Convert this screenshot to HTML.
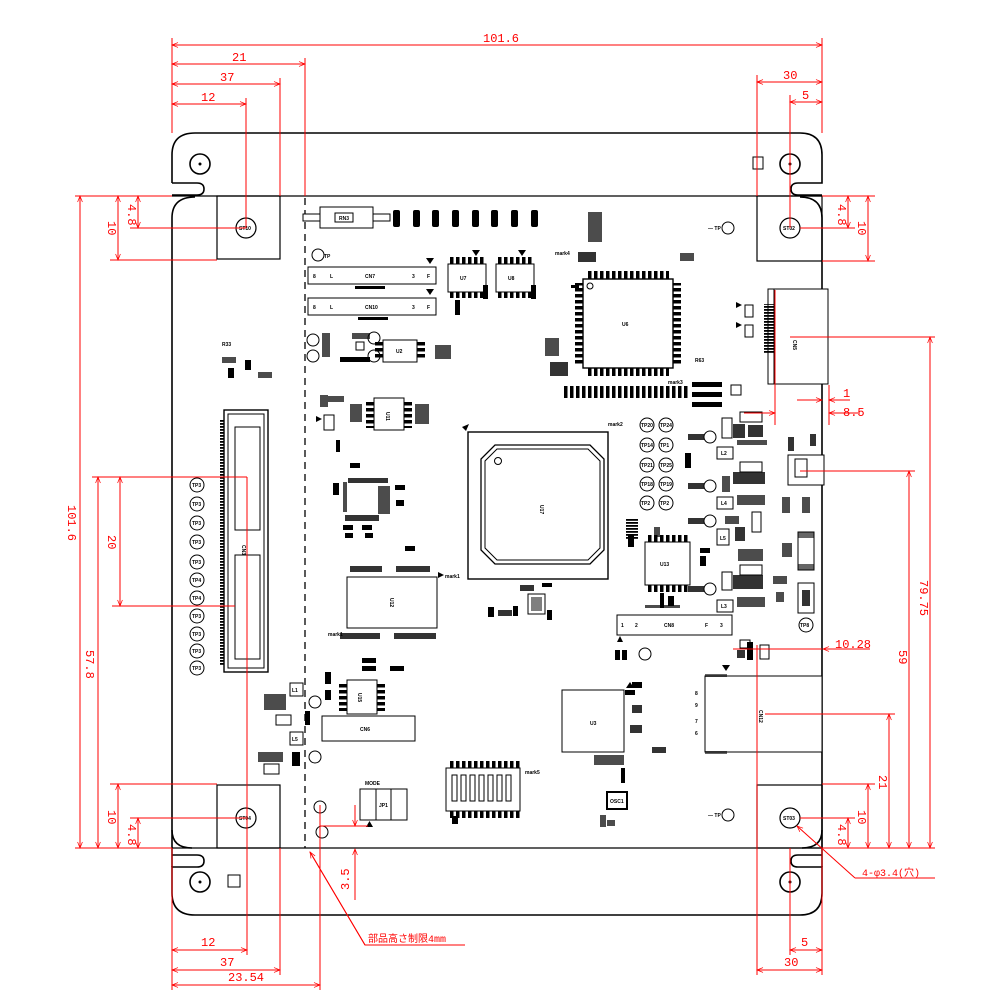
<!DOCTYPE html>
<html><head><meta charset="utf-8"><style>
html,body{margin:0;padding:0;background:#fff}
svg{display:block}
.r{stroke:#f00;stroke-width:1;fill:none}
.rt{fill:#f00;font-family:"Liberation Mono","Noto Sans CJK JP",monospace;font-size:12px;font-weight:normal}
.k{stroke:#000;stroke-width:1.6;fill:none}
.kt{stroke:#000;stroke-width:1;fill:#fff}
.t{font-family:"Liberation Sans",sans-serif;font-size:5px;font-weight:bold;fill:#000}
.b{fill:#000}
</style></head><body>
<svg width="1000" height="1000" viewBox="0 0 1000 1000" xmlns="http://www.w3.org/2000/svg">
<defs>
<marker id="a" viewBox="0 0 10 10" refX="10" refY="5" markerWidth="8" markerHeight="6" orient="auto-start-reverse"><path d="M0,1 L10,5 L0,9" stroke="#f00" fill="none" stroke-width="1.2"/></marker>
<pattern id="pv" width="10" height="6" patternUnits="userSpaceOnUse"><rect x="0" y="0" width="10" height="3.5" fill="#000"/></pattern>
<pattern id="ph" width="6" height="10" patternUnits="userSpaceOnUse"><rect x="0" y="0" width="3.5" height="10" fill="#000"/></pattern>
<pattern id="pl" width="5" height="3" patternUnits="userSpaceOnUse"><rect x="0" y="0" width="5" height="1.8" fill="#000"/></pattern>
</defs>

<path class="k" d="M172,155 Q172,133 195,133 H800 Q822,133 822,155 V183 H798 Q791,183 791,189 Q791,195 798,195 H822"/>
<path class="k" d="M172,183 H197 Q204,183 204,189 Q204,195 197,195 H172"/>
<line class="k" x1="172" y1="155" x2="172" y2="183"/>
<line class="k" x1="172" y1="196" x2="822" y2="196" style="stroke-width:1.3"/>
<path class="k" d="M172,848 V218 Q172,197 195,197"/>
<path class="k" d="M822,848 V218 Q822,197 800,197"/>
<line class="k" x1="172" y1="848" x2="822" y2="848" style="stroke-width:1.3"/>
<path class="k" d="M172,830 Q172,848 192,848"/>
<path class="k" d="M822,830 Q822,848 802,848"/>
<path class="k" d="M172,855 H197 Q204,855 204,861 Q204,867 197,867 H172 V893 Q172,915 195,915 H800 Q822,915 822,893 V867 H798 Q791,867 791,861 Q791,855 798,855 H822"/>
<line class="k" x1="172" y1="848" x2="172" y2="867"/>
<line class="k" x1="822" y1="848" x2="822" y2="867"/>
<circle class="k" cx="200" cy="164" r="10"/><circle cx="200" cy="164" r="1.5" class="b"/>
<circle class="k" cx="790" cy="164" r="10"/><circle cx="790" cy="164" r="1.5" class="b"/>
<circle class="k" cx="200" cy="882" r="10"/><circle cx="200" cy="882" r="1.5" class="b"/>
<circle class="k" cx="790" cy="882" r="10"/><circle cx="790" cy="882" r="1.5" class="b"/>
<rect class="kt" x="753" y="157" width="10" height="12"/>
<rect class="kt" x="228" y="875" width="12" height="12"/>

<rect class="k" x="217" y="196" width="63" height="63" style="stroke-width:1.2"/>
<circle class="k" cx="246" cy="228" r="10" style="stroke-width:1.2"/><text class="t" x="239" y="230">ST10</text>
<rect class="k" x="757" y="196" width="65" height="65" style="stroke-width:1.2"/>
<circle class="k" cx="790" cy="228" r="10" style="stroke-width:1.2"/><text class="t" x="783" y="230">ST02</text>
<rect class="k" x="217" y="785" width="63" height="63" style="stroke-width:1.2"/>
<circle class="k" cx="246" cy="818" r="10" style="stroke-width:1.2"/><text class="t" x="239" y="820">ST04</text>
<rect class="k" x="757" y="785" width="65" height="63" style="stroke-width:1.2"/>
<circle class="k" cx="790" cy="818" r="10" style="stroke-width:1.2"/><text class="t" x="783" y="820">ST03</text>

<line x1="305" y1="198" x2="305" y2="848" stroke="#000" stroke-width="1.3" stroke-dasharray="7,5"/>

<rect class="kt" x="303" y="214" width="17" height="7"/>
<rect class="kt" x="320" y="207" width="53" height="21"/>
<rect class="kt" x="373" y="214" width="17" height="7"/>
<rect class="kt" x="335" y="213" width="18" height="9"/><text class="t" x="339" y="220">RN3</text>
<g class="b">
<rect x="393" y="210" width="7" height="17" rx="2"/><rect x="413" y="210" width="7" height="17" rx="2"/><rect x="432" y="210" width="7" height="17" rx="2"/><rect x="452" y="210" width="7" height="17" rx="2"/><rect x="472" y="210" width="7" height="17" rx="2"/><rect x="491" y="210" width="7" height="17" rx="2"/><rect x="511" y="210" width="7" height="17" rx="2"/><rect x="531" y="210" width="7" height="17" rx="2"/>
</g>
<circle class="k" cx="318" cy="255" r="6" style="stroke-width:1"/><text class="t" x="324" y="258">TP</text>

<rect class="kt" x="308" y="267" width="128" height="17"/><text class="t" x="365" y="278">CN7</text>
<text class="t" x="313" y="278">8</text><text class="t" x="330" y="278">L</text><text class="t" x="412" y="278">3</text><text class="t" x="427" y="278">F</text>
<path d="M426,258 h8 l-4,6z" class="b"/>
<rect class="kt" x="308" y="298" width="128" height="17"/><text class="t" x="365" y="309">CN10</text>
<text class="t" x="313" y="309">8</text><text class="t" x="330" y="309">L</text><text class="t" x="412" y="309">3</text><text class="t" x="427" y="309">F</text>
<path d="M426,289 h8 l-4,6z" class="b"/>
<rect x="355" y="286" width="30" height="3" class="b"/><rect x="358" y="317" width="30" height="3" class="b"/>

<rect class="kt" x="448" y="264" width="38" height="28"/><text class="t" x="460" y="280">U7</text>
<rect x="450" y="257" width="34" height="7" fill="url(#ph)"/><rect x="450" y="292" width="34" height="6" fill="url(#ph)"/>
<rect class="kt" x="496" y="264" width="38" height="28"/><text class="t" x="508" y="280">U8</text>
<rect x="498" y="257" width="34" height="7" fill="url(#ph)"/><rect x="498" y="292" width="34" height="6" fill="url(#ph)"/>
<path d="M472,250 h8 l-4,6z M518,250 h8 l-4,6z" class="b"/>
<rect x="483" y="285" width="5" height="14" class="b"/><rect x="531" y="285" width="5" height="14" class="b"/>
<rect x="455" y="300" width="5" height="15" class="b"/>
<text class="t" x="555" y="255">mark4</text>

<rect class="kt" x="583" y="279" width="90" height="89" style="stroke-width:1.4"/>
<circle class="k" cx="590" cy="286" r="3" style="stroke-width:1"/><text class="t" x="622" y="326">U6</text>
<rect x="587" y="271" width="82" height="8" fill="url(#ph)"/><rect x="587" y="368" width="82" height="8" fill="url(#ph)"/>
<rect x="575" y="283" width="8" height="82" fill="url(#pv)"/><rect x="673" y="283" width="8" height="82" fill="url(#pv)"/>
<rect x="571" y="285" width="8" height="3" class="b"/>
<rect x="578" y="252" width="18" height="10" class="b" opacity=".8"/><rect x="588" y="212" width="14" height="30" class="b" opacity=".7"/>
<rect x="680" y="253" width="14" height="8" class="b" opacity=".7"/>
<rect x="545" y="338" width="14" height="18" class="b" opacity=".7"/>
<rect x="550" y="362" width="18" height="14" class="b" opacity=".8"/>
<rect x="562" y="386" width="128" height="12" fill="url(#ph)"/>
<text class="t" x="668" y="384">mark3</text><text class="t" x="695" y="362">R63</text>
<rect x="692" y="382" width="30" height="5" class="b"/><rect x="692" y="392" width="30" height="5" class="b"/><rect x="692" y="402" width="30" height="5" class="b"/>
<rect class="kt" x="731" y="385" width="10" height="10"/>

<rect class="kt" x="768" y="289" width="60" height="95"/>
<line class="k" x1="774" y1="289" x2="774" y2="384" style="stroke-width:1"/>
<rect x="764" y="304" width="10" height="50" fill="url(#pl)"/>
<text class="t" x="793" y="340" transform="rotate(90 793 340)">CN5</text>
<rect class="kt" x="745" y="305" width="8" height="12"/><rect class="kt" x="745" y="325" width="8" height="12"/>
<path d="M736,302 l6,3 -6,3z M736,322 l6,3 -6,3z" class="b"/>

<rect x="222" y="357" width="14" height="6" class="b" opacity=".7"/><rect x="228" y="368" width="6" height="10" class="b"/>
<rect x="245" y="360" width="6" height="10" class="b"/><rect x="258" y="372" width="14" height="6" class="b" opacity=".7"/>
<text class="t" x="222" y="346">R33</text>

<circle class="k" cx="313" cy="340" r="6" style="stroke-width:1"/><circle class="k" cx="313" cy="356" r="6" style="stroke-width:1"/>
<circle class="k" cx="374" cy="338" r="6" style="stroke-width:1"/><circle class="k" cx="374" cy="356" r="6" style="stroke-width:1"/>
<rect x="322" y="333" width="8" height="24" class="b" opacity=".7"/><rect x="352" y="333" width="18" height="6" class="b" opacity=".7"/>
<rect x="340" y="357" width="30" height="5" class="b"/>
<rect class="kt" x="356" y="342" width="8" height="8"/>
<rect class="kt" x="383" y="340" width="34" height="22"/><text class="t" x="396" y="353">U2</text>
<rect x="375" y="342" width="8" height="18" fill="url(#pv)"/><rect x="417" y="342" width="8" height="18" fill="url(#pv)"/>
<rect x="435" y="345" width="16" height="14" class="b" opacity=".7"/>

<rect class="kt" x="374" y="398" width="30" height="32"/><text class="t" x="386" y="412" transform="rotate(90 386 412)">U11</text>
<rect x="366" y="400" width="8" height="28" fill="url(#pv)"/><rect x="404" y="400" width="8" height="28" fill="url(#pv)"/>
<rect x="320" y="395" width="8" height="12" class="b" opacity=".7"/><rect x="328" y="396" width="16" height="6" class="b" opacity=".7"/>
<rect class="kt" x="324" y="415" width="10" height="15"/><path d="M316,416 l6,3 -6,3z" class="b"/>
<rect x="350" y="404" width="12" height="18" class="b" opacity=".7"/><rect x="415" y="404" width="14" height="20" class="b" opacity=".7"/>
<rect x="336" y="440" width="4" height="12" class="b"/>
<rect x="350" y="463" width="10" height="5" class="b"/>
<rect x="348" y="478" width="40" height="5" class="b" opacity=".8"/><rect x="333" y="483" width="6" height="12" class="b"/>
<rect x="343" y="482" width="4" height="30" class="b" opacity=".7"/>
<rect x="378" y="486" width="12" height="28" class="b" opacity=".7"/>
<rect x="395" y="485" width="10" height="5" class="b"/><rect x="396" y="500" width="8" height="6" class="b"/>
<rect x="345" y="515" width="34" height="6" class="b" opacity=".8"/>
<rect x="343" y="525" width="10" height="5" class="b"/><rect x="362" y="525" width="10" height="5" class="b"/>
<rect x="345" y="533" width="8" height="5" class="b"/><rect x="365" y="533" width="8" height="5" class="b"/>
<rect x="405" y="546" width="10" height="5" class="b"/>

<rect class="k" x="224" y="410" width="44" height="262" style="stroke-width:1.4"/>
<rect class="k" x="228" y="414" width="36" height="254" style="stroke-width:1"/>
<rect x="220" y="420" width="4" height="245" fill="url(#pl)"/>
<rect class="kt" x="235" y="427" width="25" height="103"/>
<rect class="kt" x="235" y="555" width="25" height="104"/>
<text class="t" x="242" y="545" transform="rotate(90 242 545)">CN3</text>
<g>
<circle class="k" cx="197" cy="485" r="7" style="stroke-width:1"/><circle class="k" cx="197" cy="504" r="7" style="stroke-width:1"/><circle class="k" cx="197" cy="523" r="7" style="stroke-width:1"/><circle class="k" cx="197" cy="542" r="7" style="stroke-width:1"/><circle class="k" cx="197" cy="562" r="7" style="stroke-width:1"/><circle class="k" cx="197" cy="580" r="7" style="stroke-width:1"/><circle class="k" cx="197" cy="598" r="7" style="stroke-width:1"/><circle class="k" cx="197" cy="616" r="7" style="stroke-width:1"/><circle class="k" cx="197" cy="634" r="7" style="stroke-width:1"/><circle class="k" cx="197" cy="651" r="7" style="stroke-width:1"/><circle class="k" cx="197" cy="668" r="7" style="stroke-width:1"/>
</g>
<g class="t"><text x="192" y="487">TP3</text><text x="192" y="506">TP3</text><text x="192" y="525">TP3</text><text x="192" y="544">TP3</text><text x="192" y="564">TP3</text><text x="192" y="582">TP4</text><text x="192" y="600">TP4</text><text x="192" y="618">TP3</text><text x="192" y="636">TP3</text><text x="192" y="653">TP3</text><text x="192" y="670">TP3</text></g>

<rect class="kt" x="468" y="432" width="140" height="147" style="stroke-width:1.4"/>
<path class="k" d="M495,445 H590 L604,459 V550 L590,564 H495 L481,550 V459 Z" style="stroke-width:1.3"/>
<path class="k" d="M497,449 H588 L600,461 V548 L588,560 H497 L485,548 V461 Z" style="stroke-width:1"/>
<circle class="k" cx="498" cy="461" r="3.5" style="stroke-width:1"/>
<text class="t" x="540" y="505" transform="rotate(90 540 505)">U17</text>
<path d="M462,427 l7,-3 -3,7z" class="b"/>
<text class="t" x="608" y="426">mark2</text>
<g>
<circle class="k" cx="647" cy="425" r="7" style="stroke-width:1"/><circle class="k" cx="666" cy="425" r="7" style="stroke-width:1"/>
<circle class="k" cx="647" cy="445" r="7" style="stroke-width:1"/><circle class="k" cx="666" cy="445" r="7" style="stroke-width:1"/>
<circle class="k" cx="647" cy="465" r="7" style="stroke-width:1"/><circle class="k" cx="666" cy="465" r="7" style="stroke-width:1"/>
<circle class="k" cx="647" cy="484" r="7" style="stroke-width:1"/><circle class="k" cx="666" cy="484" r="7" style="stroke-width:1"/>
<circle class="k" cx="647" cy="503" r="7" style="stroke-width:1"/><circle class="k" cx="666" cy="503" r="7" style="stroke-width:1"/>
</g>
<g class="t"><text x="641" y="427">TP20</text><text x="660" y="427">TP24</text><text x="641" y="447">TP14</text><text x="660" y="447">TP1</text><text x="641" y="467">TP21</text><text x="660" y="467">TP25</text><text x="641" y="486">TP18</text><text x="660" y="486">TP19</text><text x="641" y="505">TP2</text><text x="660" y="505">TP2</text></g>
<rect x="626" y="518" width="12" height="22" fill="url(#pl)"/>
<rect x="685" y="453" width="6" height="15" class="b"/>

<rect class="kt" x="645" y="542" width="45" height="43"/><text class="t" x="660" y="566">U13</text>
<rect x="647" y="535" width="43" height="7" fill="url(#ph)"/><rect x="647" y="585" width="43" height="7" fill="url(#ph)"/>
<rect x="654" y="527" width="6" height="10" class="b" opacity=".7"/>
<rect x="660" y="593" width="4" height="15" class="b"/><rect x="668" y="596" width="6" height="10" class="b"/>
<rect x="645" y="605" width="35" height="3" class="b" opacity=".7"/>
<rect x="628" y="535" width="6" height="12" class="b"/>

<rect class="kt" x="617" y="615" width="115" height="20"/><text class="t" x="664" y="627">CN8</text>
<text class="t" x="621" y="627">1</text><text class="t" x="635" y="627">2</text><text class="t" x="705" y="627">F</text><text class="t" x="720" y="627">3</text>
<path d="M617,642 h6 l-3,-6z" class="b"/>

<rect class="kt" x="347" y="577" width="90" height="51"/><text class="t" x="390" y="598" transform="rotate(90 390 598)">U12</text>
<rect x="350" y="566" width="32" height="6" class="b" opacity=".8"/><rect x="396" y="566" width="34" height="6" class="b" opacity=".8"/>
<rect x="340" y="633" width="40" height="6" class="b" opacity=".8"/><rect x="394" y="633" width="42" height="6" class="b" opacity=".8"/>
<text class="t" x="328" y="636">mark1</text><text class="t" x="445" y="578">mark1</text>
<path d="M438,572 l6,3 -6,3z" class="b"/>

<rect class="kt" x="528" y="594" width="17" height="20"/><rect x="531" y="597" width="11" height="14" class="b" opacity=".5"/>
<rect x="520" y="585" width="14" height="6" class="b" opacity=".8"/><rect x="542" y="583" width="10" height="4" class="b"/>
<rect x="488" y="607" width="6" height="10" class="b"/><rect x="498" y="610" width="14" height="6" class="b" opacity=".8"/><rect x="513" y="606" width="5" height="10" class="b"/>
<rect x="547" y="610" width="5" height="10" class="b"/>

<g>
<rect class="kt" x="740" y="412" width="22" height="10"/><rect class="kt" x="722" y="418" width="10" height="20"/>
<rect x="733" y="424" width="12" height="14" class="b" opacity=".8"/><rect x="748" y="425" width="15" height="12" class="b" opacity=".8"/>
<circle class="k" cx="710" cy="437" r="6" style="stroke-width:1"/><rect x="688" y="434" width="16" height="6" class="b" opacity=".8"/>
<rect class="kt" x="717" y="447" width="16" height="12"/><text class="t" x="721" y="455">L2</text>
<rect x="737" y="440" width="30" height="5" class="b" opacity=".7"/>
<rect class="kt" x="740" y="462" width="22" height="10"/>
<rect x="733" y="472" width="32" height="12" class="b" opacity=".8"/>
<circle class="k" cx="710" cy="486" r="6" style="stroke-width:1"/><rect x="688" y="483" width="16" height="6" class="b" opacity=".8"/>
<rect x="722" y="476" width="8" height="16" class="b" opacity=".7"/>
<rect class="kt" x="717" y="497" width="16" height="12"/><text class="t" x="721" y="505">L4</text>
<rect x="737" y="495" width="28" height="10" class="b" opacity=".7"/>
<circle class="k" cx="710" cy="521" r="6" style="stroke-width:1"/><rect x="688" y="518" width="16" height="6" class="b" opacity=".8"/><rect x="725" y="516" width="14" height="8" class="b" opacity=".7"/>
<rect class="kt" x="752" y="512" width="9" height="20"/>
<rect class="kt" x="717" y="529" width="12" height="16"/><text class="t" x="720" y="540">L5</text>
<rect x="735" y="527" width="10" height="14" class="b" opacity=".8"/>
<rect x="700" y="548" width="10" height="5" class="b"/><rect x="700" y="556" width="6" height="10" class="b"/>
<rect x="738" y="549" width="25" height="12" class="b" opacity=".7"/>
<rect class="kt" x="740" y="565" width="22" height="10"/><rect class="kt" x="722" y="572" width="10" height="18"/>
<rect x="733" y="575" width="30" height="14" class="b" opacity=".8"/>
<circle class="k" cx="710" cy="589" r="6" style="stroke-width:1"/><rect x="688" y="586" width="16" height="6" class="b" opacity=".8"/>
<rect class="kt" x="717" y="600" width="16" height="12"/><text class="t" x="721" y="608">L3</text>
<rect x="737" y="597" width="28" height="10" class="b" opacity=".7"/>
<rect class="kt" x="788" y="455" width="36" height="30"/><rect class="kt" x="795" y="459" width="12" height="18"/>
<rect x="788" y="437" width="6" height="14" class="b" opacity=".8"/><rect x="810" y="434" width="6" height="12" class="b" opacity=".8"/>
<rect x="782" y="497" width="8" height="16" class="b" opacity=".7"/><rect x="802" y="497" width="8" height="16" class="b" opacity=".7"/>
<rect class="kt" x="798" y="532" width="16" height="38"/><rect x="798" y="532" width="16" height="6" class="b" opacity=".6"/><rect x="798" y="564" width="16" height="6" class="b" opacity=".6"/>
<rect x="782" y="543" width="10" height="14" class="b" opacity=".7"/>
<rect class="kt" x="798" y="583" width="16" height="30"/><rect x="802" y="590" width="8" height="16" class="b" opacity=".8"/>
<rect x="773" y="576" width="14" height="8" class="b" opacity=".7"/><rect x="776" y="592" width="8" height="10" class="b" opacity=".7"/>
<circle class="k" cx="806" cy="625" r="7" style="stroke-width:1"/><text class="t" x="800" y="627">TP8</text>
<rect class="kt" x="740" y="640" width="10" height="8"/><rect x="737" y="650" width="8" height="8" class="b" opacity=".8"/>
<rect class="kt" x="760" y="645" width="9" height="14"/><rect x="747" y="642" width="6" height="18" class="b"/>
<path d="M722,665 h8 l-4,6z" class="b"/>
</g>

<rect class="kt" x="705" y="676" width="117" height="76"/>
<rect x="705" y="674" width="22" height="3" class="b" opacity=".6"/><rect x="705" y="751" width="22" height="3" class="b" opacity=".6"/>
<text class="t" x="759" y="710" transform="rotate(90 759 710)">CN12</text>
<text class="t" x="695" y="695">8</text><text class="t" x="695" y="707">9</text><text class="t" x="695" y="723">7</text><text class="t" x="695" y="735">6</text>

<rect class="kt" x="562" y="690" width="62" height="62"/><text class="t" x="590" y="725">U3</text>
<rect x="625" y="690" width="10" height="5" class="b"/><rect x="632" y="682" width="10" height="6" class="b"/><rect x="652" y="747" width="14" height="6" class="b" opacity=".8"/>
<rect x="630" y="725" width="12" height="8" class="b" opacity=".8"/><rect x="632" y="705" width="10" height="8" class="b" opacity=".8"/>
<rect x="615" y="650" width="5" height="10" class="b"/><rect x="622" y="650" width="5" height="10" class="b"/>
<circle class="k" cx="645" cy="654" r="6" style="stroke-width:1"/>
<path d="M626,688 h8 l-4,-6z" class="b"/>
<rect x="594" y="755" width="30" height="10" class="b" opacity=".7"/>

<rect class="kt" x="347" y="680" width="30" height="34"/><text class="t" x="358" y="693" transform="rotate(90 358 693)">U15</text>
<rect x="339" y="683" width="8" height="28" fill="url(#pv)"/><rect x="377" y="683" width="8" height="28" fill="url(#pv)"/>
<rect x="362" y="658" width="14" height="5" class="b"/><rect x="362" y="666" width="14" height="5" class="b"/><rect x="390" y="666" width="14" height="5" class="b"/>
<rect x="325" y="672" width="6" height="12" class="b"/><rect x="325" y="690" width="6" height="10" class="b"/>
<rect class="kt" x="322" y="716" width="93" height="25"/><text class="t" x="360" y="731">CN6</text>
<rect class="kt" x="290" y="683" width="13" height="13"/><text class="t" x="292" y="692">L1</text>
<rect class="kt" x="290" y="732" width="13" height="13"/><text class="t" x="292" y="741">L5</text>
<rect class="kt" x="276" y="715" width="15" height="10"/><rect class="kt" x="264" y="764" width="15" height="10"/>
<rect x="264" y="694" width="22" height="16" class="b" opacity=".7"/><rect x="258" y="752" width="25" height="10" class="b" opacity=".7"/>
<circle class="k" cx="315" cy="702" r="6" style="stroke-width:1"/><circle class="k" cx="315" cy="757" r="6" style="stroke-width:1"/>
<rect x="292" y="752" width="8" height="14" class="b"/>
<rect x="305" y="711" width="5" height="14" class="b"/>
<circle class="k" cx="320" cy="807" r="6" style="stroke-width:1"/><circle class="k" cx="322" cy="832" r="6" style="stroke-width:1"/>

<rect class="kt" x="360" y="789" width="47" height="31"/><line class="k" x1="376" y1="789" x2="376" y2="820" style="stroke-width:1"/><line class="k" x1="391" y1="789" x2="391" y2="820" style="stroke-width:1"/>
<text class="t" x="379" y="807">JP1</text>
<path d="M366,827 h7 l-3.5,-6z" class="b"/>
<text class="t" x="365" y="785">MODE</text>

<rect class="kt" x="446" y="768" width="74" height="43"/>
<g class="kt"><rect x="452" y="775" width="5" height="26"/><rect x="461" y="775" width="5" height="26"/><rect x="470" y="775" width="5" height="26"/><rect x="479" y="775" width="5" height="26"/><rect x="488" y="775" width="5" height="26"/><rect x="497" y="775" width="5" height="26"/><rect x="506" y="775" width="5" height="26"/></g>
<rect x="450" y="761" width="70" height="7" fill="url(#ph)"/><rect x="450" y="811" width="70" height="7" fill="url(#ph)"/>
<text class="t" x="525" y="774">mark5</text>
<rect x="452" y="816" width="6" height="8" class="b"/>

<rect class="kt" x="607" y="792" width="20" height="17" style="stroke-width:2"/><text class="t" x="610" y="803">OSC1</text>
<rect x="600" y="815" width="6" height="12" class="b" opacity=".7"/><rect x="607" y="820" width="8" height="6" class="b" opacity=".7"/>
<rect x="621" y="768" width="4" height="15" class="b"/>

<circle class="k" cx="728" cy="228" r="6" style="stroke-width:1"/><text class="t" x="708" y="230">— TP</text>
<circle class="k" cx="728" cy="815" r="6" style="stroke-width:1"/><text class="t" x="708" y="817">— TP</text>

<g class="r">
<line x1="172" y1="38" x2="172" y2="133"/><line x1="822" y1="38" x2="822" y2="133"/>
<line x1="172" y1="45" x2="822" y2="45" marker-start="url(#a)" marker-end="url(#a)"/>
<line x1="305" y1="58" x2="305" y2="196"/>
<line x1="172" y1="64" x2="305" y2="64" marker-start="url(#a)" marker-end="url(#a)"/>
<line x1="280" y1="78" x2="280" y2="196"/>
<line x1="172" y1="84" x2="280" y2="84" marker-start="url(#a)" marker-end="url(#a)"/>
<line x1="246" y1="98" x2="246" y2="228"/>
<line x1="172" y1="104" x2="246" y2="104" marker-start="url(#a)" marker-end="url(#a)"/>
<line x1="757" y1="75" x2="757" y2="196"/><line x1="790" y1="95" x2="790" y2="228"/>
<line x1="757" y1="82" x2="822" y2="82" marker-start="url(#a)" marker-end="url(#a)"/>
<line x1="790" y1="102" x2="822" y2="102" marker-start="url(#a)" marker-end="url(#a)"/>
<line x1="75" y1="196" x2="172" y2="196"/><line x1="75" y1="848" x2="172" y2="848"/>
<line x1="80" y1="196" x2="80" y2="848" marker-start="url(#a)" marker-end="url(#a)"/>
<line x1="110" y1="260" x2="217" y2="260"/><line x1="130" y1="228" x2="246" y2="228"/>
<line x1="118" y1="196" x2="118" y2="260" marker-start="url(#a)" marker-end="url(#a)"/>
<line x1="138" y1="196" x2="138" y2="228" marker-start="url(#a)" marker-end="url(#a)"/>
<line x1="92" y1="477" x2="247" y2="477"/><line x1="247" y1="477" x2="247" y2="955"/>
<line x1="98" y1="477" x2="98" y2="848" marker-start="url(#a)" marker-end="url(#a)"/>
<line x1="112" y1="606" x2="235" y2="606"/>
<line x1="120" y1="477" x2="120" y2="606" marker-start="url(#a)" marker-end="url(#a)"/>
<line x1="110" y1="784" x2="217" y2="784"/><line x1="130" y1="818" x2="246" y2="818"/>
<line x1="118" y1="784" x2="118" y2="848" marker-start="url(#a)" marker-end="url(#a)"/>
<line x1="138" y1="818" x2="138" y2="848" marker-start="url(#a)" marker-end="url(#a)"/>
<line x1="822" y1="196" x2="875" y2="196"/><line x1="822" y1="261" x2="875" y2="261"/><line x1="800" y1="228" x2="855" y2="228"/>
<line x1="868" y1="196" x2="868" y2="261" marker-start="url(#a)" marker-end="url(#a)"/>
<line x1="848" y1="196" x2="848" y2="228" marker-start="url(#a)" marker-end="url(#a)"/>
<line x1="790" y1="337" x2="935" y2="337"/>
<line x1="930" y1="337" x2="930" y2="848" marker-start="url(#a)" marker-end="url(#a)"/>
<line x1="800" y1="471" x2="915" y2="471"/>
<line x1="909" y1="471" x2="909" y2="848" marker-start="url(#a)" marker-end="url(#a)"/>
<line x1="765" y1="714" x2="895" y2="714"/>
<line x1="889" y1="714" x2="889" y2="848" marker-start="url(#a)" marker-end="url(#a)"/>
<line x1="822" y1="784" x2="875" y2="784"/>
<line x1="868" y1="784" x2="868" y2="848" marker-start="url(#a)" marker-end="url(#a)"/>
<line x1="800" y1="818" x2="855" y2="818"/>
<line x1="848" y1="818" x2="848" y2="848" marker-start="url(#a)" marker-end="url(#a)"/>
<line x1="822" y1="848" x2="935" y2="848"/>
<line x1="775" y1="290" x2="775" y2="425"/><line x1="829" y1="385" x2="829" y2="425"/>
<line x1="797" y1="400" x2="822" y2="400" marker-end="url(#a)"/><line x1="850" y1="400" x2="829" y2="400" marker-end="url(#a)"/>
<line x1="860" y1="413" x2="829" y2="413" marker-end="url(#a)"/>
<line x1="744" y1="413" x2="775" y2="413" marker-end="url(#a)"/>
<line x1="733" y1="649" x2="822" y2="649"/>
<line x1="870" y1="649" x2="823" y2="649" marker-end="url(#a)"/>
<line x1="757" y1="645" x2="757" y2="975"/>
<line x1="172" y1="848" x2="172" y2="990"/><line x1="280" y1="848" x2="280" y2="975"/><line x1="822" y1="848" x2="822" y2="975"/><line x1="790" y1="848" x2="790" y2="955"/>
<line x1="320" y1="805" x2="320" y2="990"/>
<line x1="172" y1="950" x2="247" y2="950" marker-start="url(#a)" marker-end="url(#a)"/>
<line x1="172" y1="970" x2="280" y2="970" marker-start="url(#a)" marker-end="url(#a)"/>
<line x1="172" y1="985" x2="320" y2="985" marker-start="url(#a)" marker-end="url(#a)"/>
<line x1="757" y1="970" x2="822" y2="970" marker-start="url(#a)" marker-end="url(#a)"/>
<line x1="790" y1="950" x2="822" y2="950" marker-start="url(#a)" marker-end="url(#a)"/>
<line x1="320" y1="826" x2="368" y2="826"/>
<line x1="355" y1="805" x2="355" y2="826" marker-end="url(#a)"/>
<line x1="355" y1="900" x2="355" y2="849" marker-end="url(#a)"/>
<polyline points="310,852 365,945 465,945"/>
<line x1="365" y1="945" x2="310" y2="852" marker-end="url(#a)"/>
<polyline points="855,878 935,878"/>
<line x1="855" y1="878" x2="797" y2="826" marker-end="url(#a)"/>
</g>
<g class="rt">
<text x="483" y="42">101.6</text>
<text x="232" y="61">21</text>
<text x="220" y="81">37</text>
<text x="201" y="101">12</text>
<text x="783" y="79">30</text>
<text x="802" y="99">5</text>
<text x="68" y="505" transform="rotate(90 68 505)">101.6</text>
<text x="86" y="650" transform="rotate(90 86 650)">57.8</text>
<text x="108" y="535" transform="rotate(90 108 535)">20</text>
<text x="108" y="221" transform="rotate(90 108 221)">10</text>
<text x="128" y="204" transform="rotate(90 128 204)">4.8</text>
<text x="108" y="810" transform="rotate(90 108 810)">10</text>
<text x="128" y="824" transform="rotate(90 128 824)">4.8</text>
<text x="858" y="221" transform="rotate(90 858 221)">10</text>
<text x="838" y="204" transform="rotate(90 838 204)">4.8</text>
<text x="920" y="580" transform="rotate(90 920 580)">79.75</text>
<text x="899" y="650" transform="rotate(90 899 650)">59</text>
<text x="879" y="775" transform="rotate(90 879 775)">21</text>
<text x="858" y="810" transform="rotate(90 858 810)">10</text>
<text x="838" y="824" transform="rotate(90 838 824)">4.8</text>
<text x="843" y="397">1</text>
<text x="843" y="416">8.5</text>
<text x="835" y="648">10.28</text>
<text x="201" y="946">12</text>
<text x="220" y="966">37</text>
<text x="228" y="981">23.54</text>
<text x="784" y="966">30</text>
<text x="801" y="946">5</text>
<text x="349" y="890" transform="rotate(-90 349 890)">3.5</text>
<text x="368" y="942" style="font-size:10px">部品高さ制限4mm</text>
<text x="862" y="876" style="font-size:10px">4-φ3.4(穴)</text>
</g>
</svg>
</body></html>
